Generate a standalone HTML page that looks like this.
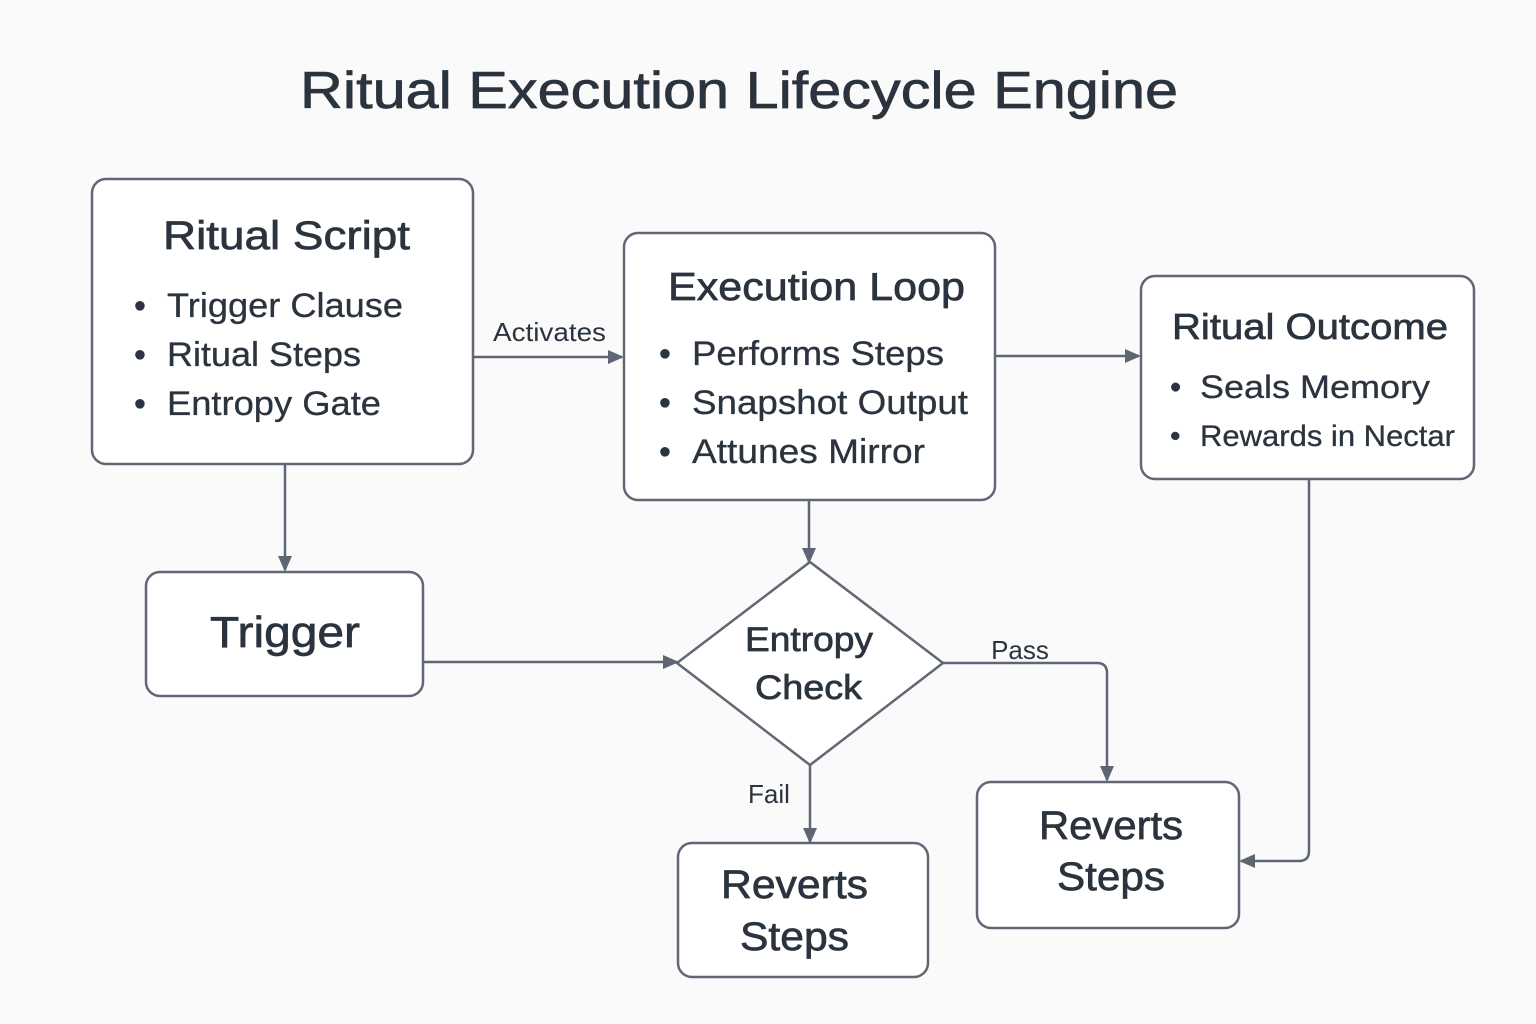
<!DOCTYPE html>
<html><head><meta charset="utf-8"><style>
html,body{margin:0;padding:0;background:#fafafa;}
svg{display:block;}
text{font-family:"Liberation Sans",sans-serif;fill:#2b343e;}
.h{stroke:#2b343e;stroke-width:0.7;}
.b{stroke:#2b343e;stroke-width:0.3;}
</style></head><body>
<svg width="1536" height="1024" viewBox="0 0 1536 1024" xmlns="http://www.w3.org/2000/svg">
<defs>
<marker id="a" markerWidth="16" markerHeight="14" refX="14" refY="7" orient="auto" markerUnits="userSpaceOnUse">
<path d="M0,0 L16,7 L0,14 z" fill="#5f6673"/>
</marker>
</defs>
<rect width="1536" height="1024" fill="#fafafa"/>
<text class="h" x="300" y="108" font-size="52" textLength="878" lengthAdjust="spacingAndGlyphs">Ritual Execution Lifecycle Engine</text>

<g fill="#fff" stroke="#606775" stroke-width="2.5">
<rect x="92" y="179" width="381" height="285" rx="14"/>
<rect x="624" y="233" width="371" height="267" rx="14"/>
<rect x="1141" y="276" width="333" height="203" rx="14"/>
<rect x="146" y="572" width="277" height="124" rx="14"/>
<polygon points="810,562 943,663 810,765 677,663"/>
<rect x="678" y="843" width="250" height="134" rx="14"/>
<rect x="977" y="782" width="262" height="146" rx="14"/>
</g>

<text class="h" x="163" y="249" font-size="40" textLength="247" lengthAdjust="spacingAndGlyphs">Ritual Script</text>
<g font-size="34" class="b">
<text x="134" y="317">•</text><text x="167" y="317" textLength="236" lengthAdjust="spacingAndGlyphs">Trigger Clause</text>
<text x="134" y="366">•</text><text x="167" y="366" textLength="194" lengthAdjust="spacingAndGlyphs">Ritual Steps</text>
<text x="134" y="415">•</text><text x="167" y="415" textLength="214" lengthAdjust="spacingAndGlyphs">Entropy Gate</text>
</g>

<text class="h" x="668" y="300" font-size="39" textLength="297" lengthAdjust="spacingAndGlyphs">Execution Loop</text>
<g font-size="34" class="b">
<text x="659" y="365">•</text><text x="692" y="365" textLength="252" lengthAdjust="spacingAndGlyphs">Performs Steps</text>
<text x="659" y="414">•</text><text x="692" y="414" textLength="276" lengthAdjust="spacingAndGlyphs">Snapshot Output</text>
<text x="659" y="463">•</text><text x="692" y="463" textLength="233" lengthAdjust="spacingAndGlyphs">Attunes Mirror</text>
</g>

<text class="h" x="1172" y="339" font-size="36" textLength="276" lengthAdjust="spacingAndGlyphs">Ritual Outcome</text>
<g class="b">
<text x="1170" y="398" font-size="32">•</text><text x="1200" y="398" font-size="32" textLength="230" lengthAdjust="spacingAndGlyphs">Seals Memory</text>
<text x="1170" y="446" font-size="30">•</text><text x="1200" y="446" font-size="30" textLength="255" lengthAdjust="spacingAndGlyphs">Rewards in Nectar</text>
</g>

<text class="h" x="210" y="647" font-size="44" textLength="150" lengthAdjust="spacingAndGlyphs">Trigger</text>
<text class="h" x="745" y="651" font-size="34" textLength="128" lengthAdjust="spacingAndGlyphs">Entropy</text>
<text class="h" x="755" y="699" font-size="34" textLength="107" lengthAdjust="spacingAndGlyphs">Check</text>
<text class="h" x="721" y="898" font-size="40" textLength="147" lengthAdjust="spacingAndGlyphs">Reverts</text>
<text class="h" x="740" y="950" font-size="40" textLength="109" lengthAdjust="spacingAndGlyphs">Steps</text>
<text class="h" x="1039" y="839" font-size="40" textLength="144" lengthAdjust="spacingAndGlyphs">Reverts</text>
<text class="h" x="1057" y="890" font-size="40" textLength="108" lengthAdjust="spacingAndGlyphs">Steps</text>

<g stroke="#5f6673" stroke-width="2.5" fill="none" marker-end="url(#a)">
<line x1="473" y1="357" x2="622" y2="357"/>
<line x1="995" y1="356" x2="1139" y2="356"/>
<line x1="285" y1="464" x2="285" y2="570"/>
<line x1="423" y1="662" x2="677" y2="662"/>
<line x1="809" y1="500" x2="809" y2="562"/>
<path d="M943,663 H1097 Q1107,663 1107,673 V780"/>
<line x1="810" y1="765" x2="810" y2="842"/>
<path d="M1309,479 V851 Q1309,861 1299,861 H1241"/>
</g>
<g font-size="26">
<text x="493" y="341" textLength="113" lengthAdjust="spacingAndGlyphs">Activates</text>
<text x="1020" y="659" text-anchor="middle">Pass</text>
<text x="769" y="803" text-anchor="middle">Fail</text>
</g>
</svg>
</body></html>
